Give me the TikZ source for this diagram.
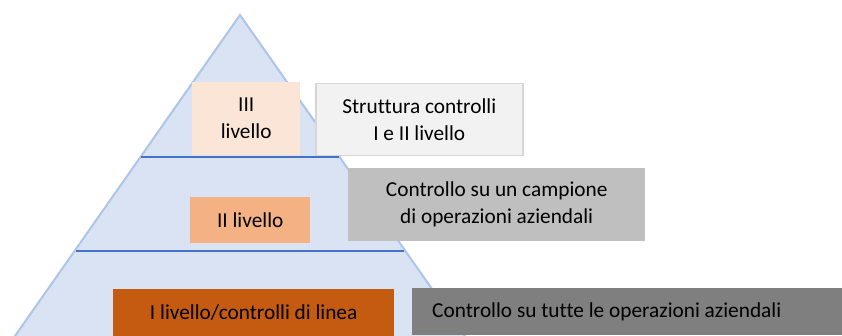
\documentclass[tikz,border=0pt]{standalone}
\usepackage{fontspec}
\setmainfont{Carlito}[Ligatures=NoCommon]
\definecolor{PyrFill}{HTML}{DAE3F3}
\definecolor{PyrEdge}{HTML}{ADC5E7}
\definecolor{PyrLine}{HTML}{4472C4}
\definecolor{LivTre}{HTML}{FBE5D6}
\definecolor{LivDue}{HTML}{F4B183}
\definecolor{LivUno}{HTML}{C55A11}
\definecolor{NoteTre}{HTML}{F2F2F2}
\definecolor{NoteTreEdge}{HTML}{D6D6D6}
\definecolor{NoteDue}{HTML}{BFBFBF}
\definecolor{NoteUno}{HTML}{7F7F7F}

\begin{document}
\begin{tikzpicture}[x=1pt,y=-1pt,
  livbox/.style={anchor=north west, inner sep=0pt, align=center,
    font=\fontsize{21.3}{27}\selectfont},
  notebox/.style={livbox}]
  \useasboundingbox (0,0) rectangle (842,336);
  \clip (0,0) rectangle (842,336);
  % pyramid
  \filldraw[fill=PyrFill, draw=PyrEdge, line width=2pt]
    (240,15) -- (5.2,350) -- (474.8,350) -- cycle;
  \draw[PyrLine, line width=1.2pt] (141,157) -- (339,157);
  \draw[PyrLine, line width=1.2pt] (76,251) -- (404,251);
  % levels
  \node[livbox, fill=LivTre, minimum width=108, minimum height=73] (liv3) at (192,82) {III\\livello};
  \node[livbox, fill=LivDue, minimum width=120, minimum height=46] (liv2) at (190,197) {II livello};
  \node[livbox, fill=LivUno, minimum width=281, minimum height=47] (liv1) at (113,289) {I livello/controlli di linea};
  % descriptions
  \node[notebox, fill=NoteTre, draw=NoteTreEdge, line width=1.5pt, minimum width=207, minimum height=72] (note3) at (315,83) {Struttura controlli\\I e II livello};
  \node[notebox, fill=NoteDue, minimum width=297, minimum height=73] (note2) at (348,168) {Controllo su un campione\\di operazioni aziendali};
  \node[notebox, fill=NoteUno, minimum height=47, text width=420, inner xsep=20pt, align=flush left] (note1) at (412,288) {Controllo su tutte le operazioni aziendali};
\end{tikzpicture}
\end{document}
